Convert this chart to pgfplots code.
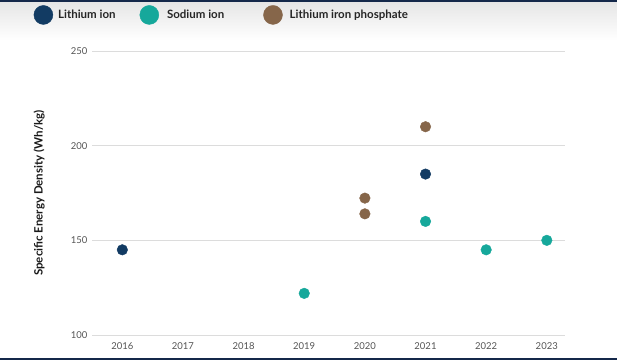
\documentclass[border=0pt]{standalone}
\usepackage{pgfplots}
\pgfplotsset{compat=1.18}
\usepackage{fontspec}
\setmainfont{Lato}
\definecolor{liion}{HTML}{123B63}
\definecolor{naion}{HTML}{16A89B}
\definecolor{lfp}{HTML}{86664A}
\definecolor{navybar}{HTML}{14284A}
\definecolor{gridc}{HTML}{DCDCDC}
\definecolor{tickc}{HTML}{555555}
\begin{document}
\begin{tikzpicture}[x=1pt,y=1pt]
\fill[white] (0,0) rectangle (617,360);
\shade[top color=black!10, bottom color=white] (0,320) rectangle (617,358);
\fill[navybar] (0,358) rectangle (617,360);
\fill[navybar] (0,0) rectangle (617,2.5);
\begin{axis}[
  at={(92pt,25pt)}, anchor=south west,
  scale only axis, width=473pt, height=284pt,
  xmin=2015.5, xmax=2023.3,
  ymin=100, ymax=250,
  clip=false,
  axis line style={draw=none},
  tick style={draw=none},
  xtick={2016,...,2023},
  ytick={100,150,200,250},
  ymajorgrids, grid style={gridc, line width=0.8pt},
  /pgf/number format/assume math mode=true,
  xticklabel={\pgfmathprintnumber[1000 sep={}]{\tick}},
  xticklabel style={font=\fontsize{9.5}{11}\selectfont, text=tickc, yshift=-4pt},
  yticklabel style={font=\fontsize{9.5}{11}\selectfont, text=tickc, xshift=-1pt},
  ylabel={Specific Energy Density (Wh/kg)},
  ylabel style={font=\fontsize{11.5}{13}\selectfont\bfseries, text=black!90, at={(axis description cs:-0.112,0.5)}, anchor=center},
  legend columns=3,
  legend style={draw=none, fill=none, at={(axis description cs:-0.130,1.127)}, anchor=west,
    font=\fontsize{11.5}{13}\selectfont\bfseries, text=black!85,
    /tikz/column 1/.style={column sep=3pt},
    /tikz/column 2/.style={column sep=22pt},
    /tikz/column 3/.style={column sep=6pt},
    /tikz/column 4/.style={column sep=37pt},
    /tikz/column 5/.style={column sep=5pt}},
  legend image code/.code={\fill[#1] (0.3cm,0cm) circle (9.5pt);},
]
\addplot[only marks, mark=*, mark size=5.3pt, color=liion] coordinates {(2016,145) (2021,185)};
\addlegendentry{Lithium ion}
\addplot[only marks, mark=*, mark size=5.3pt, color=naion] coordinates {(2019,122) (2021,160) (2022,145) (2023,150)};
\addlegendentry{Sodium ion}
\addplot[only marks, mark=*, mark size=5.3pt, color=lfp] coordinates {(2020,172.3) (2020,164) (2021,210)};
\addlegendentry{Lithium iron phosphate}
\end{axis}
\end{tikzpicture}
\end{document}
